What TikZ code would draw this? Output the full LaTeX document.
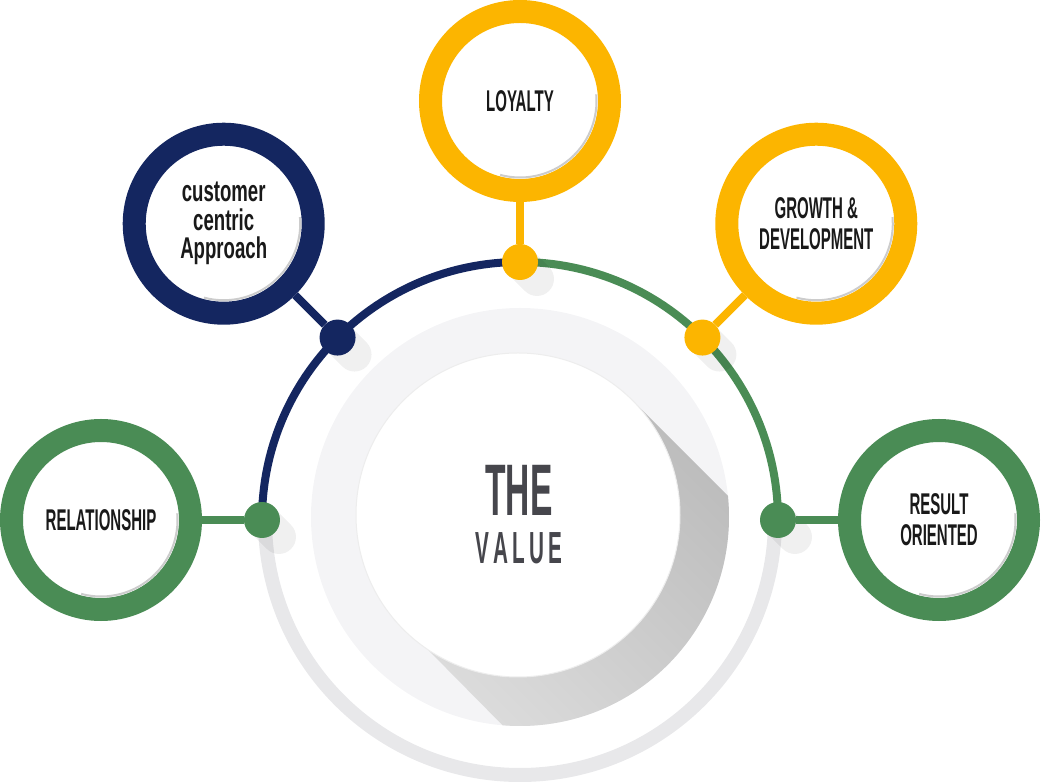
\documentclass[tikz,border=0pt]{standalone}
\usepackage{fontspec}
\newfontfamily\rotulo[FakeStretch=0.5]{Liberation Sans}
\newfontfamily\minusc[FakeStretch=0.62]{Liberation Sans}
\newfontfamily\centro[FakeStretch=0.46]{Liberation Sans}
\definecolor{valgreen}{RGB}{74,140,85}
\definecolor{valnavy}{RGB}{20,38,96}
\definecolor{valyellow}{RGB}{252,181,0}
\definecolor{arcgray}{RGB}{232,232,234}
\definecolor{discgray}{RGB}{244,244,246}
\definecolor{textgray}{RGB}{70,70,76}
\tikzset{anillo/.style={draw, circle, line width=23pt, minimum size=179pt, inner sep=0pt,
    fill=white, align=center, text=black!90, font=\rotulo\bfseries\fontsize{30}{31}\selectfont}}
\tikzset{punto/.style={circle, minimum size=36pt, inner sep=0pt}}
\tikzset{enlace/.style={line width=8pt}}

\begin{document}
\begin{tikzpicture}[x=1pt, y=1pt]
    \useasboundingbox (-520,-263) rectangle (521,520);
    % big ring
    \draw[arcgray, line width=14pt] (180:255) arc[start angle=180, end angle=360, radius=255];
    \draw[valnavy, line width=8pt] (180:258) arc[start angle=180, end angle=90, radius=258];
    \draw[valgreen, line width=8pt] (90:258) arc[start angle=90, end angle=0, radius=258];

    % centre disc and its long shadow
    \fill[discgray] (0,3) circle (209);
    \begin{scope}
        \clip (0,3) circle (209);
        \shade[top color=black!30, bottom color=black!10, shading angle=-45]
            (110,122) -- ++(330,-330) -- (211.5,-437) -- (-114.5,-107) -- cycle;
    \end{scope}
    \node[circle, fill=white, draw=black!7, line width=1pt, minimum size=324pt, inner sep=0pt] (valor) at (-2,5) {};
    \node[inner sep=0pt, font=\centro\bfseries\fontsize{73}{73}\selectfont, text=textgray] (the) at (-1,29.5) {THE};
    \node[inner sep=0pt, font=\centro\bfseries\fontsize{45}{45}\selectfont, text=textgray] (value) at (-1,-28.5)
        {V\kern4pt A\kern4pt L\kern4pt U\kern4pt E};

    % shadows of the points
    \foreach \a in {180,135,90,45,0}
        \fill[black, opacity=0.06] (\a:258) ++(45:17) -- ++(-45:24) arc[start angle=45, end angle=-135, radius=17] -- ++(135:24) -- cycle;

    % points on the ring
    \node[punto, fill=valgreen] (p1) at (180:258) {};
    \node[punto, fill=valnavy] (p2) at (135:258) {};
    \node[punto, fill=valyellow] (p3) at (90:258) {};
    \node[punto, fill=valyellow] (p4) at (45:258) {};
    \node[punto, fill=valgreen] (p5) at (0:258) {};

    % outer circles
    \node[anillo, draw=valgreen] (1) at (180:419) {RELATIONSHIP};
    \node[anillo, draw=valnavy, font=\minusc\bfseries\fontsize{30}{28.5}\selectfont] (2) at (135:419) {customer\\centric\\Approach};
    \node[anillo, draw=valyellow] (3) at (90:419) {LOYALTY};
    \node[anillo, draw=valyellow] (4) at (45:419) {GROWTH \&\\DEVELOPMENT};
    \node[anillo, draw=valgreen] (5) at (0:419) {RESULT\\ORIENTED};

    \foreach \n in {1,...,5}
        \draw[black!20, line width=2pt] (\n.center) ++(-105:76.5) arc[start angle=-105, end angle=5, radius=76.5];

    \draw[enlace, valgreen] (1) -- (p1);
    \draw[enlace, valnavy] (2) -- (p2);
    \draw[enlace, valyellow] (3) -- (p3);
    \draw[enlace, valyellow] (4) -- (p4);
    \draw[enlace, valgreen] (5) -- (p5);
\end{tikzpicture}
\end{document}
